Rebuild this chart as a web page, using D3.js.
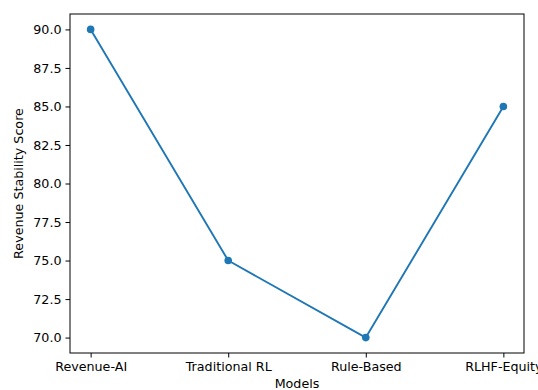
<!DOCTYPE html>
<html><head><meta charset="utf-8">
<script src="https://cdn.jsdelivr.net/npm/d3@7"></script>
<style>body{margin:0;background:#fff}svg{display:block}text{font-family:"DejaVu Sans",sans-serif;fill:#000}</style>
</head><body><svg id="c" width="538" height="390"></svg>
<script>
const categories = ["Revenue-AI","Traditional RL","Rule-Based","RLHF-Equity"];
const scores = [90, 75, 70, 85];
const yTicks = [70, 72.5, 75, 77.5, 80, 82.5, 85, 87.5, 90];

const svg = d3.select("#c");
const L = 70, R = 524, T = 14, B = 353;
const fs = 12.7;
const xi = d3.scaleLinear().domain([-0.15, categories.length - 1 + 0.15]).range([L, R]);
const y = d3.scaleLinear().domain([69, 91]).range([B, T]);

const g = svg.append("g");
const xAxis = d3.axisBottom(xi).tickValues(d3.range(categories.length)).tickFormat(i => categories[i]).tickSize(4.5).tickPadding(4);
const yAxis = d3.axisLeft(y).tickValues(yTicks).tickFormat(d3.format(".1f")).tickSize(4.5).tickPadding(4);
const gx = g.append("g").attr("transform", `translate(0,${B})`).call(xAxis);
const gy = g.append("g").attr("transform", `translate(${L},0)`).call(yAxis);
[gx, gy].forEach(a => {
  a.select(".domain").remove();
  a.selectAll("text").attr("font-size", fs).attr("font-family", "DejaVu Sans").attr("fill", "#000");
  a.selectAll("line").attr("stroke", "#000").attr("stroke-width", 1);
});
const line = d3.line().x((d, i) => xi(i)).y(d => y(d));
g.append("path").datum(scores).attr("d", line).attr("fill", "none").attr("stroke", "#1f77b4").attr("stroke-width", 1.9).attr("stroke-linejoin","round");
g.selectAll("circle").data(scores).enter().append("circle")
  .attr("cx", (d, i) => xi(i)).attr("cy", d => y(d)).attr("r", 3.8).attr("fill", "#1f77b4");
g.append("rect").attr("x", L).attr("y", T).attr("width", R - L).attr("height", B - T)
  .attr("fill", "none").attr("stroke", "#000").attr("stroke-width", 1);
svg.append("text").attr("x", (L + R) / 2).attr("y", 388).attr("text-anchor", "middle").attr("font-size", fs).text("Models");
svg.append("text").attr("transform", `translate(23,${(T + B) / 2}) rotate(-90)`).attr("text-anchor", "middle").attr("font-size", fs).text("Revenue Stability Score");
</script></body></html>
